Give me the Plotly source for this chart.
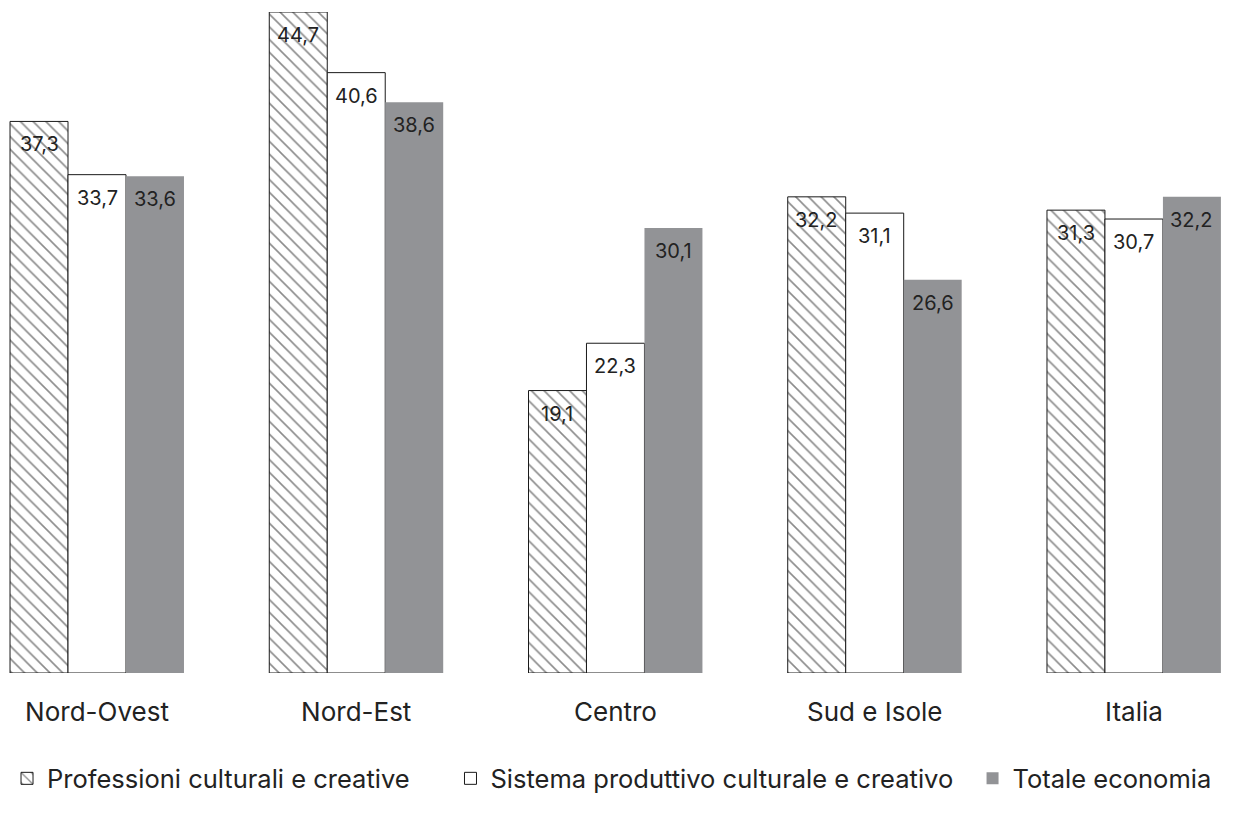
import plotly.graph_objects as go

# Regional values (%), one list per series
regions = ["Nord-Ovest", "Nord-Est", "Centro", "Sud e Isole", "Italia"]
professioni = [37.3, 44.7, 19.1, 32.2, 31.3]
sistema = [33.7, 40.6, 22.3, 31.1, 30.7]
totale = [33.6, 38.6, 30.1, 26.6, 32.2]

series_names = [
    "Professioni culturali e creative",
    "Sistema produttivo culturale e creativo",
    "Totale economia",
]

FONT = "Inter"
TEXT_COLOR = "#222222"
GREY = "#929396"
BAR_PX = 58  # width of one bar in pixels, used to offset the value labels
NBSP = "\u00a0"  # extra room between legend entries

fig = go.Figure()
fig.add_trace(go.Bar(
    name=series_names[0] + NBSP * 5, x=regions, y=professioni,
    marker=dict(
        color="white",
        line=dict(color="#1a1a1a", width=1),
        pattern=dict(shape="\\", fgcolor="#1a1a1a", bgcolor="white",
                     size=9, solidity=0.18),
    ),
))
fig.add_trace(go.Bar(
    name=series_names[1] + NBSP * 2, x=regions, y=sistema,
    marker=dict(color="white", line=dict(color="#1a1a1a", width=1)),
))
fig.add_trace(go.Bar(
    name=series_names[2], x=regions, y=totale,
    marker=dict(color=GREY, line=dict(color=GREY, width=0)),
))

# Value labels just inside the top of each bar
for k, values in enumerate([professioni, sistema, totale]):
    for region, v in zip(regions, values):
        fig.add_annotation(
            x=region, y=v, xref="x", yref="y",
            xshift=(k - 1) * BAR_PX, yshift=-9, yanchor="top",
            text=f"{v:.1f}".replace(".", ","), showarrow=False,
            font=dict(family=FONT, size=20, color=TEXT_COLOR),
        )

fig.update_layout(
    width=1255, height=819,
    margin=dict(l=0, r=0, t=12, b=146),
    paper_bgcolor="white", plot_bgcolor="white",
    barmode="group", bargap=0.329, bargroupgap=0,
    separators=",.",
    font=dict(family=FONT, color=TEXT_COLOR),
    showlegend=True,
    legend=dict(
        orientation="h", x=0.0056, xanchor="left", y=-0.16, yanchor="middle",
        font=dict(family=FONT, size=25.5, color=TEXT_COLOR),
        traceorder="normal",
    ),
)
fig.update_xaxes(
    type="category", range=[-0.3742, 4.467],
    showgrid=False, zeroline=False, showline=False, ticks="",
    tickfont=dict(family=FONT, size=26, color=TEXT_COLOR),
    ticklabelstandoff=21,
)
fig.update_yaxes(
    range=[0, 44.7], visible=False, showgrid=False, zeroline=False,
)

fig.write_html("out.html")
